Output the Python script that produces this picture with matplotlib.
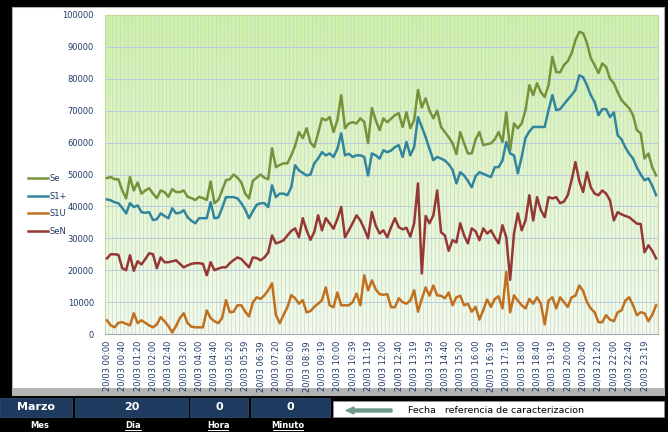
import numpy as np
import matplotlib
matplotlib.use("Agg")
from matplotlib import pyplot as plt
from matplotlib.colors import LinearSegmentedColormap
from matplotlib.patches import Rectangle, FancyArrow

# 10-minute readings for 20/03 (values in VA)
se = [48.9, 49.2, 48.5, 48.5, 45.0, 42.5, 49.2, 45.0, 47.5, 44.0, 45.0, 45.7,
      44.0, 42.6, 45.0, 44.5, 43.0, 45.4, 44.5, 44.5, 45.0, 43.0, 42.6, 42.0,
      43.0, 42.6, 42.0, 47.8, 41.0, 42.0, 45.0, 48.2, 48.5, 50.0, 49.0, 47.5,
      44.0, 42.5, 48.0, 49.0, 50.0, 49.0, 48.5, 58.2, 52.3, 53.0, 53.5, 53.5,
      56.0, 59.0, 63.3, 61.4, 64.5, 60.0, 58.6, 63.0, 67.6, 67.0, 68.0, 63.3,
      67.0, 74.9, 64.5, 66.0, 66.4, 66.0, 67.6, 66.5, 59.8, 70.8, 67.0, 63.9,
      67.6, 66.4, 67.5, 68.6, 69.2, 64.9, 69.5, 64.5, 67.0, 76.5, 71.0, 73.9,
      70.0, 67.6, 70.0, 64.9, 63.3, 61.7, 59.8, 56.4, 63.3, 59.8, 56.6, 56.6,
      61.0, 63.3, 59.2, 59.5, 59.8, 61.0, 63.3, 60.2, 69.5, 57.6, 66.0, 64.5,
      66.0, 70.2, 78.0, 74.9, 78.6, 75.8, 74.3, 78.0, 86.9, 82.1, 82.0, 84.3,
      85.5, 88.0, 92.1, 94.7, 94.3, 91.2, 86.5, 84.3, 81.8, 84.8, 83.7, 80.0,
      78.6, 75.8, 73.3, 72.0, 70.8, 68.6, 63.9, 62.9, 55.0, 56.6, 52.3, 49.7]

s1p = [42.2, 41.9, 41.3, 41.0, 39.5, 37.8, 41.0, 39.8, 40.3, 38.2, 38.0, 38.2,
       35.7, 36.0, 37.8, 37.0, 36.3, 39.4, 37.8, 38.0, 38.8, 36.6, 35.5, 34.7,
       36.3, 36.3, 36.3, 41.3, 36.3, 36.5, 39.5, 42.9, 42.9, 42.9, 42.5, 41.0,
       39.0, 36.3, 38.5, 40.5, 41.0, 41.0, 39.8, 46.6, 42.9, 44.0, 44.0, 43.5,
       46.0, 52.9, 51.3, 50.5, 49.7, 50.0, 53.5, 55.0, 57.0, 56.0, 56.6, 55.5,
       58.0, 62.9, 56.0, 56.5, 55.5, 56.0, 56.0, 55.5, 49.7, 56.6, 56.0, 55.0,
       57.6, 57.0, 57.5, 58.6, 59.2, 55.5, 60.2, 56.0, 58.6, 68.0, 64.9, 61.7,
       58.0, 54.5, 55.5, 55.0, 54.4, 53.2, 51.5, 47.2, 50.7, 49.7, 48.0, 46.0,
       49.5, 50.7, 50.2, 49.7, 49.2, 52.3, 52.3, 54.4, 60.2, 56.6, 56.0, 50.4,
       55.5, 61.5, 63.5, 64.9, 64.9, 64.9, 64.9, 70.2, 74.9, 70.2, 70.5, 72.0,
       73.5, 74.9, 76.5, 81.1, 80.5, 78.0, 74.9, 72.7, 68.6, 70.5, 70.5, 68.0,
       69.5, 62.3, 61.0, 58.5, 56.5, 55.0, 52.2, 50.0, 48.2, 48.8, 46.5, 43.5]

s1u = [4.3, 2.7, 2.1, 3.5, 3.7, 3.2, 2.7, 6.5, 3.4, 4.3, 3.5, 2.7,
       2.1, 3.0, 5.3, 4.0, 2.5, 0.5, 2.5, 5.0, 6.5, 3.4, 2.3, 2.1,
       2.1, 2.1, 7.4, 5.0, 4.0, 3.4, 5.0, 10.6, 6.8, 7.0, 9.0, 9.0,
       7.0, 5.5, 9.9, 11.5, 11.0, 12.1, 13.7, 15.9, 6.0, 3.4, 6.0, 8.4,
       12.2, 11.2, 9.5, 10.6, 6.8, 7.2, 8.5, 9.5, 10.6, 14.6, 9.0, 8.4,
       13.0, 9.0, 9.0, 9.0, 10.0, 12.7, 9.0, 18.4, 13.7, 16.8, 14.0, 12.5,
       12.3, 12.5, 8.4, 8.4, 11.2, 10.0, 9.5, 10.5, 13.7, 7.0, 11.0, 14.6,
       12.0, 15.2, 12.1, 12.0, 11.2, 13.0, 9.0, 11.5, 12.0, 9.0, 9.5, 7.0,
       8.5, 4.5, 7.5, 10.8, 8.5, 11.0, 11.8, 8.0, 19.5, 6.8, 12.1, 10.5,
       9.0, 8.0, 11.0, 9.5, 11.5, 9.5, 3.0, 10.5, 11.5, 8.0, 11.5, 10.0,
       8.5, 11.5, 12.0, 15.2, 13.5, 10.0, 8.0, 6.8, 3.7, 3.7, 5.9, 4.5,
       4.0, 6.8, 7.4, 10.5, 11.5, 9.0, 5.9, 6.8, 6.5, 4.0, 6.0, 9.0]

sen = [23.7, 25.0, 25.0, 24.8, 20.6, 20.0, 24.7, 19.8, 22.8, 21.8, 23.5, 25.3,
       25.0, 20.6, 24.0, 22.5, 22.5, 22.8, 23.1, 22.0, 20.9, 21.5, 22.0, 22.2,
       22.2, 22.0, 18.4, 22.5, 20.0, 20.5, 20.9, 20.9, 22.2, 23.2, 24.0, 23.5,
       22.2, 20.9, 24.0, 23.8, 23.1, 24.0, 25.5, 30.9, 28.4, 28.8, 29.4, 30.9,
       32.3, 33.1, 30.3, 36.3, 32.5, 29.5, 32.0, 37.2, 32.5, 36.3, 34.7, 33.0,
       36.0, 39.8, 30.3, 32.5, 34.8, 37.2, 35.6, 33.0, 30.0, 38.2, 34.0, 31.5,
       32.5, 30.3, 33.5, 36.3, 33.5, 32.8, 33.3, 30.5, 34.7, 47.2, 19.0, 37.0,
       34.7, 37.2, 45.0, 31.9, 30.9, 26.1, 29.4, 28.7, 34.7, 30.9, 28.4, 33.1,
       32.2, 29.4, 33.1, 31.5, 32.5, 30.3, 28.4, 34.1, 30.3, 17.0, 31.5, 37.8,
       32.5, 35.6, 43.5, 35.6, 42.9, 38.8, 36.6, 42.9, 42.5, 42.9, 41.0, 41.5,
       43.5, 48.2, 53.9, 48.0, 44.5, 50.7, 46.0, 44.0, 43.5, 45.0, 44.0, 41.9,
       35.6, 38.2, 37.5, 37.0, 36.6, 35.6, 34.6, 34.5, 25.6, 27.8, 26.1, 23.7]

tick_times = ["00:00", "00:40", "01:20", "02:00", "02:40", "03:20", "04:00",
              "04:40", "05:20", "05:59", "06:39", "07:20", "08:00", "08:39",
              "09:19", "10:00", "10:39", "11:19", "12:00", "12:40", "13:19",
              "13:59", "14:40", "15:20", "16:00", "16:39", "17:19", "18:00",
              "18:40", "19:19", "20:00", "20:40", "21:20", "22:00", "22:40",
              "23:19"]
tick_labels = ["20/03 " + t for t in tick_times]

series = [("Se", se, "#76923C"),
          ("S1+", s1p, "#31859C"),
          ("S1U", s1u, "#C0701E"),
          ("SeN", sen, "#953735")]

W, H = 668, 432
fig = plt.figure(figsize=(W / 100, H / 100), dpi=100, facecolor="black")


def box(x, y, w, h, **kw):
    # rectangle given in pixels from the top-left corner
    r = Rectangle((x / W, 1 - (y + h) / H), w / W, h / H,
                  transform=fig.transFigure, **kw)
    fig.patches.append(r)
    return r


# white chart panel and its grey bottom edge
box(12, 7, 652, 388, facecolor="white", edgecolor="#B0B0B0", lw=0.8, zorder=-2)
box(12, 388, 652, 7, facecolor="#B4B4B4", edgecolor="none", zorder=-1)

ax = fig.add_axes([105 / W, 1 - 334 / H, 553 / W, 319 / H])
n = len(se)
x = np.arange(n)

green = LinearSegmentedColormap.from_list("bg", ["#F4FBEA", "#E4F7C8", "#CDF2A2"])
ax.imshow(np.linspace(0, 1, 256).reshape(-1, 1), cmap=green, aspect="auto",
          extent=(-0.5, n - 0.5, 100000, 0), zorder=0)

vg = ax.vlines(np.arange(-0.5, n), 0, 100000, color="#C4D4DC", lw=0.5, zorder=1)
vg.set_snap(False)
ax.hlines(np.arange(10000, 100001, 10000), -0.5, n - 0.5, color="#B9CCE0",
          lw=0.7, zorder=1)

for name, vals, col in series:
    ax.plot(x, np.array(vals) * 1000, color=col, lw=1.8, label=name,
            solid_joinstyle="round", zorder=3)

ax.set_xlim(-0.5, n - 0.5)
ax.set_ylim(0, 100000)
ax.set_yticks(np.arange(0, 100001, 10000))
ax.set_yticklabels([str(v) for v in range(0, 100001, 10000)])
ax.set_xticks(np.arange(0, n, 4))
ax.set_xticklabels(tick_labels, rotation=90)
ax.tick_params(axis="y", length=0, pad=8, labelsize=6, labelcolor="#1F3A68")
ax.tick_params(axis="x", length=0, pad=5, labelsize=6, labelcolor="#1F3A68")
for s in ax.spines.values():
    s.set_color("#C4D89A")
    s.set_linewidth(0.8)
ax.spines["bottom"].set_color("#A0A8B0")

fig.legend(loc="center left", bbox_to_anchor=(20 / W, 1 - 205 / H),
           frameon=False, fontsize=6, handlelength=2.4, handletextpad=0.2,
           labelspacing=1.05, labelcolor="#1F3A68")

# date selector strip below the chart
cells = [("Marzo", 0, 72), ("20", 75, 113), ("0", 190, 58), ("0", 251, 79)]
for txt, cx, cw in cells:
    box(cx, 398, cw, 19, facecolor="#1F3A5F", edgecolor="#2E4A70", lw=0.6)
    fig.text((cx + cw / 2) / W, 1 - 407.5 / H, txt, color="white",
             fontsize=8, fontweight="bold", ha="center", va="center")

box(333, 401, 331, 16, facecolor="white", edgecolor="#909090", lw=0.6)
fig.patches.append(FancyArrow(392 / W, 1 - 410.5 / H, -46 / W, 0,
                              width=3 / H, head_width=7 / H, head_length=8 / W,
                              length_includes_head=True,
                              transform=fig.transFigure, color="#6F9C8A"))
fig.text(408 / W, 1 - 410.5 / H, "Fecha   referencia de caracterizacion",
         fontsize=6.8, color="black", ha="left", va="center")

for txt, cx in [("Mes", 40), ("Dia", 133), ("Hora", 218), ("Minuto", 288)]:
    fig.text(cx / W, 1 - 425 / H, txt, color="white", fontsize=6,
             fontweight="bold", ha="center", va="center")

for cx, w in [(133, 16), (218, 20), (288, 30)]:
    fig.lines.append(plt.Line2D([(cx - w / 2) / W, (cx + w / 2) / W],
                                [1 - 430 / H, 1 - 430 / H], color="white",
                                lw=0.7, transform=fig.transFigure))

fig.savefig("out.png", dpi=100, facecolor=fig.get_facecolor())
